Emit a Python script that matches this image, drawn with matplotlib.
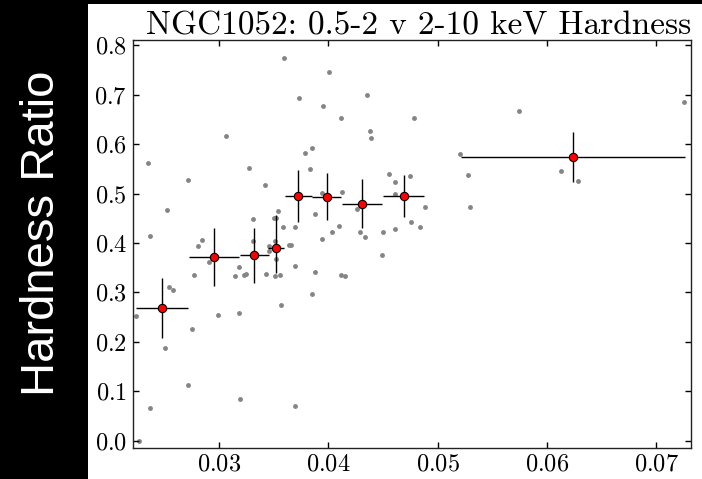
import matplotlib
matplotlib.use("Agg")
import matplotlib.pyplot as plt
from matplotlib.patches import Rectangle
from matplotlib.ticker import MultipleLocator

# individual points (soft/hard count ratio vs hardness)
gx = [0.03595, 0.03064, 0.02347, 0.03275, 0.02716, 0.03421, 0.02518, 0.0354, 0.03309, 0.03498,
      0.03516, 0.03583, 0.02365, 0.02844, 0.03311, 0.03513, 0.02808, 0.03457, 0.03641, 0.0373,
      0.04005, 0.03947, 0.04355, 0.04117, 0.04783, 0.04383, 0.04386, 0.03846, 0.03788, 0.03828,
      0.04557, 0.04744, 0.04606, 0.03938, 0.04126, 0.04612, 0.04881, 0.04264, 0.03879, 0.04096,
      0.03696, 0.04755, 0.04841, 0.04612, 0.04499, 0.04032, 0.04288, 0.04337, 0.0394, 0.03657,
      0.05747, 0.07258, 0.05207, 0.05277, 0.05299, 0.06132, 0.06282, 0.0449, 0.02904, 0.02771,
      0.02538, 0.02576, 0.02234, 0.02991, 0.03182, 0.0275, 0.02505, 0.02716, 0.02368, 0.03192,
      0.02262, 0.03185, 0.03146, 0.03222, 0.03242, 0.03432, 0.03508, 0.03553, 0.03568, 0.03456,
      0.03519, 0.03696, 0.03852, 0.03876, 0.03689, 0.04117, 0.04148]
gy = [0.7739, 0.6172, 0.5626, 0.5518, 0.5275, 0.5168, 0.4674, 0.4648, 0.448, 0.45,
      0.45, 0.433, 0.4142, 0.4055, 0.404, 0.404, 0.3945, 0.3933, 0.3966, 0.6929,
      0.7462, 0.6773, 0.699, 0.6536, 0.6536, 0.6267, 0.6126, 0.5923, 0.5822, 0.5492,
      0.5397, 0.5356, 0.5229, 0.5012, 0.5026, 0.4998, 0.4735, 0.4688, 0.4587, 0.4338,
      0.4324, 0.4419, 0.433, 0.4283, 0.4217, 0.4229, 0.4217, 0.4128, 0.4075, 0.396,
      0.6662, 0.6848, 0.5808, 0.5377, 0.4733, 0.5451, 0.5255, 0.3761, 0.3619, 0.3346,
      0.3109, 0.3049, 0.2516, 0.2543, 0.2583, 0.2265, 0.1881, 0.1126, 0.0654, 0.0836,
      -0.0012, 0.3508, 0.3336, 0.3352, 0.3368, 0.3379, 0.3336, 0.3348, 0.2739, 0.3838,
      0.3676, 0.3534, 0.2962, 0.3407, 0.0696, 0.3362, 0.3332]

# binned values
bx = [0.02475, 0.02951, 0.0332, 0.0352, 0.03723, 0.03983, 0.04304, 0.04691, 0.06236]
by = [0.268, 0.371, 0.375, 0.3905, 0.4945, 0.4937, 0.4796, 0.4958, 0.5735]
bxerr = [0.0024, 0.00232, 0.00131, 0.00076, 0.00125, 0.0013, 0.00183, 0.00188, 0.01027]
byerr_lo = [0.061, 0.058, 0.057, 0.052, 0.052, 0.047, 0.05, 0.043, 0.051]
byerr_hi = [0.061, 0.059, 0.056, 0.066, 0.053, 0.047, 0.05, 0.042, 0.051]

plt.rcParams['font.family'] = 'serif'
plt.rcParams['font.serif'] = ['cmr10']
plt.rcParams['axes.formatter.use_mathtext'] = True

fig = plt.figure(figsize=(7.02, 4.79), dpi=100, facecolor='black')
# white panel behind the plot
fig.patches.append(Rectangle((88/702, 0), 1 - 88/702, 475/479, transform=fig.transFigure,
                             facecolor='white', edgecolor='none', zorder=-10))

ax = fig.add_axes([0.189, 0.0641, 0.9839 - 0.189, 0.9171 - 0.0641])
ax.set_zorder(1)
ax.plot(gx, gy, 'o', color='#858585', markersize=3.5, markeredgewidth=0, zorder=1)
ax.errorbar(bx, by, xerr=bxerr, yerr=[byerr_lo, byerr_hi], fmt='o', color='black',
            ecolor='black', elinewidth=1, capsize=0, markerfacecolor='red',
            markeredgecolor='black', markeredgewidth=0.8, markersize=6, zorder=3)

ax.set_xlim(0.02207, 0.07317)
ax.set_ylim(-0.0156, 0.8115)
ax.xaxis.set_major_locator(MultipleLocator(0.01))
ax.yaxis.set_major_locator(MultipleLocator(0.1))
ax.tick_params(direction='in', top=True, right=True, length=4, width=1, labelsize=17.5, pad=4)
for s in ax.spines.values():
    s.set_linewidth(1)
    s.set_color('#222222')

ax.set_title('NGC1052: 0.5-2 v 2-10 keV Hardness', fontsize=24, pad=4, x=0.512)

fig.text(42/702, 1 - 233/479, 'Hardness Ratio', rotation=90, color='white',
         fontsize=34, family='Liberation Sans', ha='center', va='center')

fig.savefig('out.png', dpi=100, facecolor=fig.get_facecolor())
